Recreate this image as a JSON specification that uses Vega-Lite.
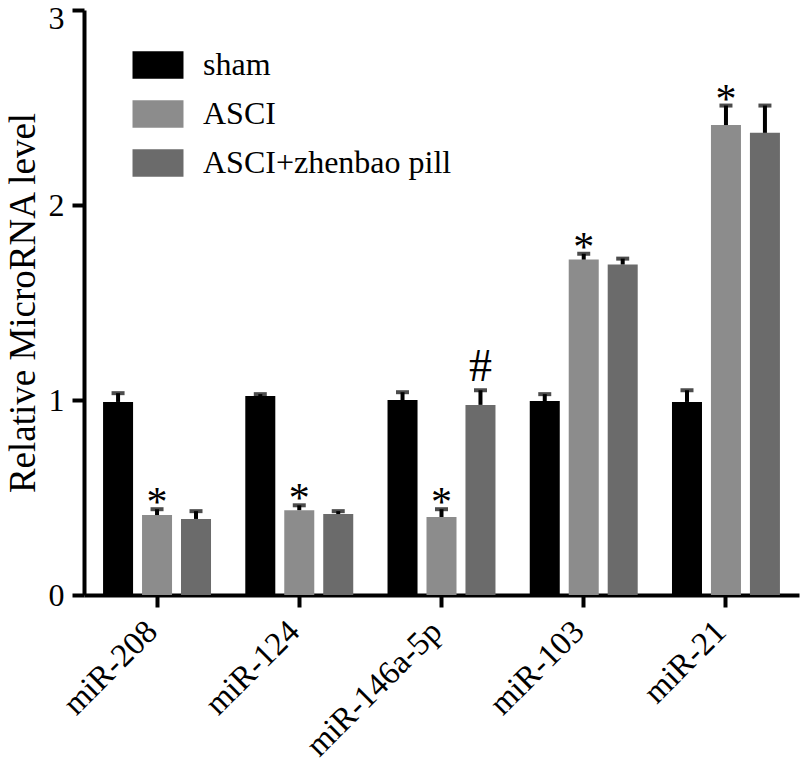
{
  "$schema": "https://vega.github.io/schema/vega-lite/v6.json",
  "width": 715,
  "height": 585,
  "autosize": {"type": "none"},
  "padding": {"left": 84, "top": 10, "right": 1, "bottom": 168},
  "background": "white",
  "config": {
    "view": {"stroke": null},
    "font": "Liberation Serif",
    "axis": {"grid": false, "domainColor": "black", "tickColor": "black", "labelColor": "black", "titleColor": "black"}
  },
  "data": {
    "values": [
      {"mirna": "miR-208", "group": "sham", "value": 0.99, "err": 1.035, "sig": ""},
      {"mirna": "miR-208", "group": "ASCI", "value": 0.41, "err": 0.44, "sig": "*"},
      {"mirna": "miR-208", "group": "ASCI+zhenbao pill", "value": 0.39, "err": 0.43, "sig": ""},
      {"mirna": "miR-124", "group": "sham", "value": 1.02, "err": 1.03, "sig": ""},
      {"mirna": "miR-124", "group": "ASCI", "value": 0.435, "err": 0.46, "sig": "*"},
      {"mirna": "miR-124", "group": "ASCI+zhenbao pill", "value": 0.415, "err": 0.43, "sig": ""},
      {"mirna": "miR-146a-5p", "group": "sham", "value": 1.0, "err": 1.04, "sig": ""},
      {"mirna": "miR-146a-5p", "group": "ASCI", "value": 0.40, "err": 0.44, "sig": "*"},
      {"mirna": "miR-146a-5p", "group": "ASCI+zhenbao pill", "value": 0.975, "err": 1.05, "sig": "#"},
      {"mirna": "miR-103", "group": "sham", "value": 0.995, "err": 1.03, "sig": ""},
      {"mirna": "miR-103", "group": "ASCI", "value": 1.72, "err": 1.75, "sig": "*"},
      {"mirna": "miR-103", "group": "ASCI+zhenbao pill", "value": 1.695, "err": 1.725, "sig": ""},
      {"mirna": "miR-21", "group": "sham", "value": 0.99, "err": 1.05, "sig": ""},
      {"mirna": "miR-21", "group": "ASCI", "value": 2.41, "err": 2.51, "sig": "*"},
      {"mirna": "miR-21", "group": "ASCI+zhenbao pill", "value": 2.37, "err": 2.51, "sig": ""}
    ]
  },
  "encoding": {
    "x": {
      "field": "mirna", "type": "nominal",
      "sort": ["miR-208", "miR-124", "miR-146a-5p", "miR-103", "miR-21"],
      "scale": {"paddingInner": 0.241, "paddingOuter": 0.134},
      "axis": {
        "title": null, "labelAngle": -45, "labelAlign": "right", "labelBaseline": "middle",
        "labelFontSize": 33, "labelFont": "Liberation Serif", "labelPadding": 19, "labelOffset": -5,
        "domainWidth": 4, "tickWidth": 4, "tickSize": 12
      }
    },
    "xOffset": {
      "field": "group", "type": "nominal",
      "sort": ["sham", "ASCI", "ASCI+zhenbao pill"],
      "scale": {"paddingInner": 0.23, "paddingOuter": 0}
    }
  },
  "layer": [
    {
      "mark": {"type": "bar"},
      "encoding": {
        "y": {
          "field": "value", "type": "quantitative",
          "scale": {"domain": [0, 3], "nice": false},
          "axis": {
            "values": [0, 1, 2, 3], "format": "d", "title": "Relative MicroRNA level",
            "titleFontSize": 37, "titleFont": "Liberation Serif", "titleFontWeight": "normal", "titlePadding": 6,
            "labelFontSize": 32, "labelFont": "Liberation Serif", "labelPadding": 8,
            "labelOffset": {"expr": "datum.value == 3 ? 8 : 0"},
            "domainWidth": 4, "tickWidth": 4, "tickSize": 12
          }
        },
        "fill": {
          "field": "group", "type": "nominal",
          "sort": ["sham", "ASCI", "ASCI+zhenbao pill"],
          "scale": {"domain": ["sham", "ASCI", "ASCI+zhenbao pill"], "range": ["#000000", "#8c8c8c", "#6b6b6b"]},
          "legend": {
            "title": null, "orient": "none", "legendX": 54, "legendY": 35, "padding": 0,
            "symbolType": "M-1.3,-0.7H1.3V0.7H-1.3Z", "symbolSize": 1538, "symbolStrokeWidth": 0,
            "labelFontSize": 32, "labelFont": "Liberation Serif", "labelColor": "black",
            "labelOffset": 25, "rowPadding": 13, "labelLimit": 400
          }
        }
      }
    },
    {
      "mark": {"type": "rule", "color": "black", "strokeWidth": 4},
      "encoding": {
        "y": {"field": "value", "type": "quantitative"},
        "y2": {"field": "err"}
      }
    },
    {
      "mark": {"type": "tick", "color": "black", "thickness": 4, "size": 13, "orient": "horizontal"},
      "encoding": {
        "y": {"field": "err", "type": "quantitative"}
      }
    },
    {
      "transform": [{"filter": "datum.sig == '*'"}],
      "mark": {"type": "text", "fontSize": 42, "font": "Liberation Serif", "baseline": "alphabetic", "dy": 7, "color": "black"},
      "encoding": {
        "y": {"field": "err", "type": "quantitative"},
        "text": {"field": "sig"}
      }
    },
    {
      "transform": [{"filter": "datum.sig == '#'"}],
      "mark": {"type": "text", "fontSize": 46, "font": "Liberation Serif", "baseline": "alphabetic", "dy": -9, "color": "black"},
      "encoding": {
        "y": {"field": "err", "type": "quantitative"},
        "text": {"field": "sig"}
      }
    }
  ]
}
